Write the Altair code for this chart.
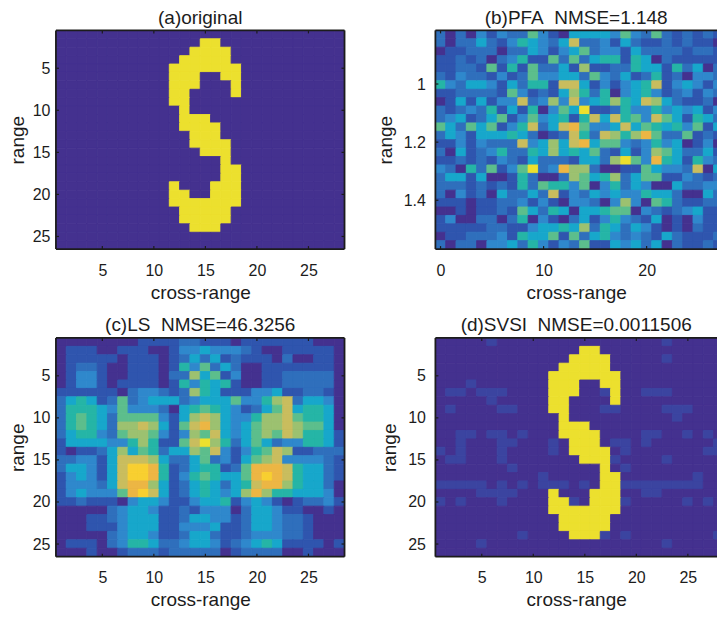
import altair as alt
import pandas as pd

TITLES = ["(a)original", "(b)PFA\u00a0\u00a0NMSE=1.148", "(c)LS\u00a0\u00a0NMSE=46.3256", "(d)SVSI\u00a0\u00a0NMSE=0.0011506"]
TICKS = [5, 10, 15, 20, 25]
B_XTICKS = [0, 10, 20]
B_YTICKS = [1, 1.2, 1.4]
N_ROWS = 26
N_COLS = 28

# colour levels 0..11 (hex digits in the grids below)
LEVELS = list(range(12))
COLOURS = ["#44318f", "#2f55ae", "#2f6fbc", "#2f88cc", "#17a7cb", "#25b5a6",
           "#5cbe8c", "#9cc170", "#c9bd5e", "#ecb644", "#f8cf30", "#ece02e"]

# S shape: (row, first column, last column)
S_RUNS = [(2,15,16),(3,14,17),(4,13,17),(5,12,18),(6,12,14),(6,17,18),(7,12,14),(7,18,18),
          (8,12,13),(8,18,18),(9,12,13),(10,13,13),(11,13,15),(12,13,16),(13,14,16),(14,14,17),
          (15,15,17),(16,17,17),(17,17,18),(18,17,18),(19,12,12),(19,16,18),(20,12,13),(20,16,18),
          (21,12,18),(22,13,17),(23,13,17),(24,14,16)]

# faint cells of panel (d): (row, column)
D_FAINT = [(1,6),(1,23),(3,23),(6,4),(7,2),(7,3),(7,5),(7,6),(7,7),(7,17),(7,21),(7,22),(7,23),(8,6),
           (9,2),(9,7),(9,8),(9,17),(9,18),(9,23),(9,24),(9,25),(10,24),(12,3),(12,4),(12,6),(12,7),(12,9),
           (12,21),(12,22),(12,25),(12,27),(13,3),(13,7),(13,8),(13,12),(13,18),(13,19),(13,21),(13,28),
           (14,1),(14,3),(14,7),(14,12),(14,19),(14,27),(14,28),(15,2),(15,3),(15,7),(15,18),(15,23),
           (16,8),(16,19),(17,11),(17,26),(18,1),(18,2),(18,3),(18,4),(18,5),(18,7),(18,9),(18,11),(18,12),
           (18,13),(18,15),(18,19),(18,20),(18,21),(18,22),(18,23),(18,24),(18,25),(18,26),(19,5),(19,6),
           (19,7),(19,8),(19,21),(19,22),(20,1),(20,3),(20,7),(20,14),(20,19),(20,25),(20,27),
           (24,9),(24,17),(24,19),(24,28),(25,5),(25,23)]

PFA = [
    "20203132263104" "44436326212121",
    "20224213543248" "22314211212110",
    "01122202243134" "62331422221221",
    "11212023511626" "24551540211111",
    "11221615162241" "71122544152402",
    "21322131263344" "26324125120332",
    "53244314255188" "41313458134313",
    "11222216312147" "52503453123132",
    "01414133823738" "34575487421120",
    "21232514150364" "b1125335343413",
    "23412461363451" "58485638641542",
    "64264613582489" "63348465453614",
    "24314445420128" "52875796226121",
    "11313222834748" "94663235340130",
    "20412352254745" "46214137642241",
    "11212132142221" "4427b639541532",
    "320526136b2397" "72001164332804",
    "24414001520027" "64572466113212",
    "22212121526553" "60352430042233",
    "20312042242813" "24343354420042",
    "11101122313103" "32037306521122",
    "00101121642540" "44566032123411",
    "13002202503102" "41353214010311",
    "11111221134454" "72542431010211",
    "01122231544616" "24532321421112",
    "20220334253132" "61143424021121",
]

LS = [
    "00000000111122" "11101111111000",
    "01110011100133" "43332100111110",
    "01111101110124" "24121110200110",
    "01221001110153" "62420011111110",
    "01331001110227" "46130011222220",
    "01331011110153" "54510011222220",
    "11111102332127" "54111334112210",
    "24541262344423" "44463357824430",
    "25554363332045" "65431246845540",
    "25654266663147" "87433577865540",
    "25654277874168" "97434677876640",
    "24553267763137" "68434676875541",
    "14444335751168" "b7524642335541",
    "10112474652447" "68313568711222",
    "22331488874224" "62314678333321",
    "2443148aa95124" "55126999854421",
    "1343148aa95135" "654469a9854421",
    "13332489974124" "54245899754420",
    "13433369a84124" "54347975544430",
    "11211103443113" "44513431012231",
    "00000234431121" "33302443110010",
    "00011234441124" "43312443221000",
    "00011134441133" "34112443221000",
    "00000234431124" "42112333221000",
    "01110235542234" "43123454111101",
    "00010012221222" "22012222001000",
]

def s_grid(faint=()):
    g = [[0.0] * N_COLS for _ in range(N_ROWS)]
    for r, c in faint:
        g[r - 1][c - 1] = 0.5
    for r, a, b in S_RUNS:
        for c in range(a, b + 1):
            g[r - 1][c - 1] = 11.0
    return g

def digit_grid(rows):
    assert len(rows) == N_ROWS and all(len(r) == N_COLS for r in rows)
    return [[float(int(ch, 16)) for ch in r] for r in rows]

def table(grid, x_start, y_start, y_step):
    recs = []
    for r, row in enumerate(grid):
        for c, v in enumerate(row):
            recs.append(dict(x0=x_start + c, x1=x_start + c + 1,
                             y0=y_start + r * y_step, y1=y_start + (r + 1) * y_step, v=v))
    return pd.DataFrame(recs)

W, H = 289, 219
W_CUT = 282
INK = "#1c1c1c"
FONT = "Liberation Sans"
LABEL = 16
TITLE = 19
colour = alt.Scale(domain=LEVELS, range=COLOURS, clamp=True)

def panel(df, title, xdom, ydom, xticks, yticks, width, label_pad, title_pad, fmt="d", right_frame=True):
    sx = alt.Scale(domain=xdom, nice=False, zero=False)
    sy = alt.Scale(domain=ydom, reverse=True, nice=False, zero=False)
    ax = alt.Axis(values=xticks, title="cross-range", grid=False, domain=False, ticks=False, labelPadding=13,
                  titlePadding=5, labelFontSize=LABEL, titleFontSize=TITLE, labelFont=FONT, titleFont=FONT,
                  labelColor=INK, titleColor=INK, titleFontWeight="normal", format="d", labelFlush=False)
    ay = alt.Axis(values=yticks, title="range", grid=False, domain=False, ticks=False, labelPadding=label_pad,
                  titlePadding=title_pad, labelFontSize=LABEL, titleFontSize=TITLE, labelFont=FONT, titleFont=FONT,
                  labelColor=INK, titleColor=INK, titleFontWeight="normal", format=fmt, labelFlush=False)
    X = alt.X("t:Q", scale=sx, axis=ax)
    Y = alt.Y("t:Q", scale=sy, axis=ay)
    rects = alt.Chart(df).mark_rect(strokeWidth=0.9, clip=True).encode(
        x=alt.X("x0:Q", scale=sx, axis=ax), x2="x1:Q",
        y=alt.Y("y0:Q", scale=sy, axis=ay), y2="y1:Q",
        color=alt.Color("v:Q", scale=colour, legend=None),
        stroke=alt.Stroke("v:Q", scale=colour, legend=None),
    )
    xt = alt.Chart(pd.DataFrame({"t": xticks})).mark_rule(color=INK, strokeWidth=1.2)
    yt = alt.Chart(pd.DataFrame({"t": yticks})).mark_rule(color=INK, strokeWidth=1.2)
    layers = [
        rects,
        xt.encode(x=X, y=alt.value(0), y2=alt.value(3)),
        xt.encode(x=X, y=alt.value(H), y2=alt.value(H - 3)),
        yt.encode(y=Y, x=alt.value(0), x2=alt.value(3)),
    ]
    if right_frame:
        layers.append(yt.encode(y=Y, x=alt.value(width), x2=alt.value(width - 3)))
    base = alt.Chart(pd.DataFrame({"k": [0]}))
    edge = base.mark_rule(color=INK, strokeWidth=1.8)
    layers += [
        edge.encode(x=alt.value(0), x2=alt.value(width), y=alt.value(0)),
        edge.encode(x=alt.value(0), x2=alt.value(width), y=alt.value(H)),
        edge.encode(x=alt.value(0), y=alt.value(0), y2=alt.value(H)),
    ]
    if right_frame:
        layers.append(edge.encode(x=alt.value(width), y=alt.value(0), y2=alt.value(H)))
    return alt.layer(*layers).properties(
        width=width, height=H,
        title=alt.TitleParams(title, fontSize=TITLE, font=FONT, fontWeight="normal", color=INK, offset=2),
    )

Y_TOP, Y_BOTTOM = 0.8155, 1.568
XA = [0.5, 28.5]
YA = [0.5, 26.5]
XB = [-0.5, 26.83]
XD = [0.5, 27.83]

a = panel(table(s_grid(), 0.5, 0.5, 1), TITLES[0], XA, YA, TICKS, TICKS, W, 6, 5)
b = panel(table(digit_grid(PFA), -0.5, Y_TOP, (Y_BOTTOM - Y_TOP) / N_ROWS), TITLES[1], XB, [Y_TOP, Y_BOTTOM],
          B_XTICKS, B_YTICKS, W_CUT, 10, 8, fmt=".1~f", right_frame=False)
c = panel(table(digit_grid(LS), 0.5, 0.5, 1), TITLES[2], XA, YA, TICKS, TICKS, W, 6, 5)
d = panel(table(s_grid(D_FAINT), 0.5, 0.5, 1), TITLES[3], XD, YA, TICKS, TICKS, W_CUT, 10, 8, right_frame=False)

chart = alt.concat(a, b, c, d, columns=2, spacing=alt.RowColnumber(row=89, column=91), bounds="flush").configure_view(stroke=None).properties(
    padding={"left": 0, "right": 0, "top": 0, "bottom": 0}, background="white")
chart.save("out.html", embed_options={"renderer": "svg", "actions": False})
